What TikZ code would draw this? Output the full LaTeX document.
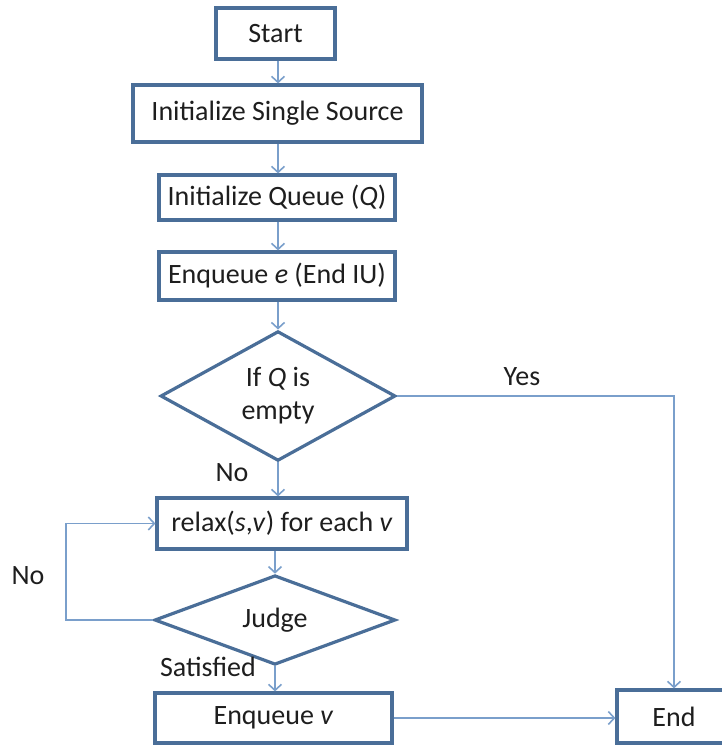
\documentclass[tikz,border=0pt]{standalone}
\usepackage{fontspec}
\setmainfont{Carlito}
\usetikzlibrary{shapes.geometric,arrows.meta}
\definecolor{boxblue}{HTML}{4A6E98}
\definecolor{linkblue}{HTML}{7A9FCB}
\definecolor{ink}{HTML}{1E1E1E}
\begin{document}
\begin{tikzpicture}[x=1pt,y=-1pt,
  every node/.style={font=\fontsize{28}{33}\selectfont, text=ink},
  proc/.style={draw=boxblue, line width=3.2pt, fill=white, inner sep=0pt},
  decision/.style={diamond, draw=boxblue, line width=3.2pt, fill=white, inner sep=0pt, align=center},
  link/.style={draw=linkblue, line width=1.6pt},
  arr/.style={link, -{Straight Barb[length=6pt,width=13pt]}},
  lbl/.style={inner sep=0pt}]

\useasboundingbox (0,0) rectangle (722,745);
\clip (0,0) rectangle (722,745);

% process boxes
\node[proc, minimum width=119, minimum height=51] (start) at (275.5,33.5) {Start};
\node[proc, minimum width=289, minimum height=57] (init) at (277.5,113.5) {Initialize Single Source};
\node[proc, minimum width=236, minimum height=45] (queue) at (277,197.5) {Initialize Queue (\textit{Q})};
\node[proc, minimum width=236, minimum height=48] (enqe) at (277,276) {Enqueue \textit{e} (End IU)};
\node[decision, minimum width=235, minimum height=99] (empty) at (278,396) {If \textit{Q} is\\empty};
\node[proc, minimum width=250, minimum height=51] (relax) at (282,523.5) {relax(\textit{s},\textit{v}) for each \textit{v}};
\node[decision, minimum width=241, minimum height=74] (judge) at (275,620) {Judge};
\node[proc, minimum width=237, minimum height=50] (enqv) at (273.5,718) {Enqueue \textit{v}};
\node[proc, minimum width=114, minimum height=53] (finish) at (674,716.5) {End};

% routing guides
\coordinate (spine) at (278,0);
\coordinate (loop) at (66,0);

% connectors
\draw[arr] (start.south -| spine) -- (init.north -| spine);
\draw[arr] (init.south -| spine) -- (queue.north -| spine);
\draw[arr] (queue.south -| spine) -- (enqe.north -| spine);
\draw[arr] (enqe.south -| spine) -- (empty.north);
\draw[arr] (empty.south) -- (relax.north -| empty.south);
\draw[arr] (relax.south -| judge.north) -- (judge.north);
\draw[arr] (judge.south) -- (enqv.north -| judge.south);
\draw[arr] (judge.west) -- (judge.west -| loop) |- (relax.west);
\draw[arr] (empty.east) -| (finish.north);
\draw[arr] (enqv.east) -- (enqv.east -| finish.west);

% branch labels
\node[lbl] (yes) at (522,377) {Yes};
\node[lbl] (no1) at (232,473) {No};
\node[lbl] (no2) at (28,576) {No};
\node[lbl] (sat) at (208,667) {Satisfied};
\end{tikzpicture}
\end{document}
